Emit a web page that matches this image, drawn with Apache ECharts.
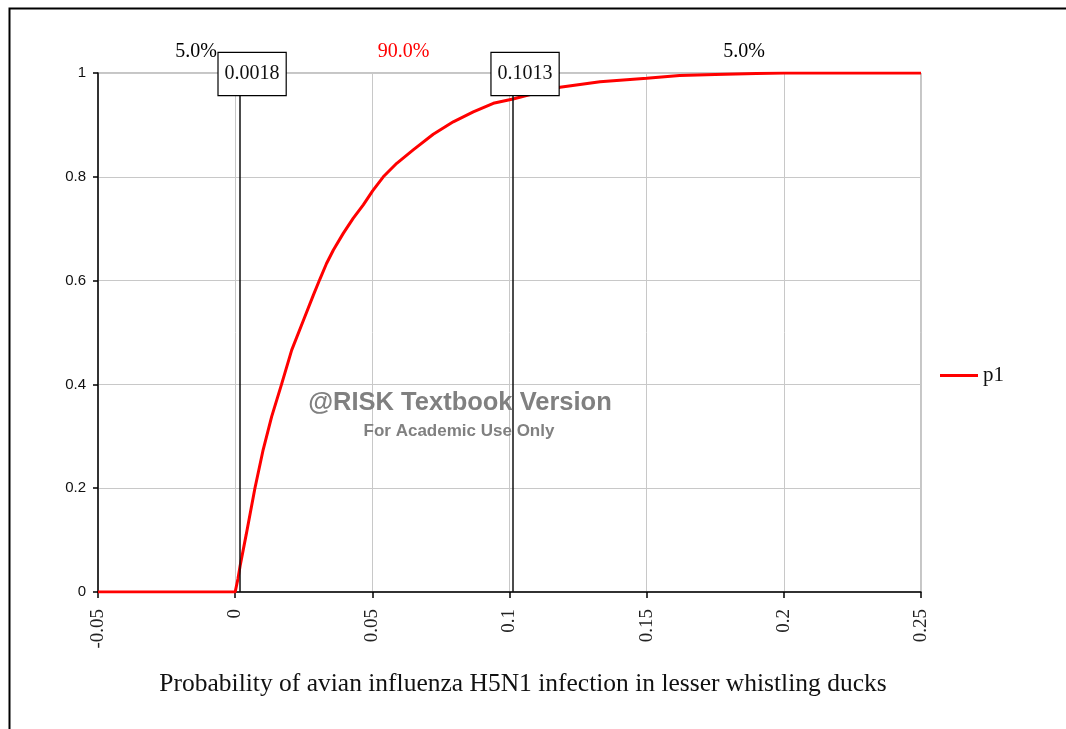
<!DOCTYPE html>
<html>
<head>
<meta charset="utf-8">
<script src="https://cdn.jsdelivr.net/npm/echarts@6/dist/echarts.min.js"></script>
<style>
html,body{margin:0;padding:0;background:#fff;}
#chart{width:1066px;height:729px;}
</style>
</head>
<body>
<div id="chart"></div>
<script>
// ---- Data ----
const seriesName = 'p1';
const xValues = [-0.05, 0, 0.0010, 0.0018, 0.0040, 0.0072, 0.0102, 0.0133, 0.0169, 0.0206, 0.0250, 0.0285, 0.0309, 0.0333, 0.0358, 0.0394, 0.0430, 0.0467, 0.0501, 0.0540, 0.0589, 0.0649, 0.0722, 0.0795, 0.0868, 0.0941, 0.1013, 0.1100, 0.1184, 0.1330, 0.1500, 0.1620, 0.1750, 0.1900, 0.2000, 0.2500];
const cumProb = [0, 0, 0.025, 0.05, 0.11, 0.20, 0.274, 0.338, 0.40, 0.466, 0.525, 0.572, 0.603, 0.633, 0.659, 0.691, 0.720, 0.746, 0.773, 0.800, 0.826, 0.852, 0.882, 0.906, 0.925, 0.9416, 0.95, 0.962, 0.9724, 0.983, 0.9897, 0.995, 0.997, 0.999, 1, 1];
const quantiles = [0.0018, 0.1013];
const quantileLabels = ['0.0018', '0.1013'];
const regionLabels = ['5.0%', '90.0%', '5.0%'];
const regionColors = ['#000000', '#ff0000', '#000000'];
const xMin = -0.05, xMax = 0.25, xStep = 0.05;
const yMin = 0, yMax = 1, yStep = 0.2;
const xTitle = 'Probability of avian influenza H5N1 infection in lesser whistling ducks';
const watermark1 = '@RISK Textbook Version';
const watermark2 = 'For Academic Use Only';

const serif = '"Liberation Serif", "DejaVu Serif", serif';
const sans = '"Liberation Sans", Arial, sans-serif';

const curve = xValues.map((x, i) => [x, cumProb[i]]);
const bounds = [xMin].concat(quantiles).concat([xMax]);
const regionData = regionLabels.map((t, i) => ({
  value: [(bounds[i] + bounds[i + 1]) / 2, yMax],
  label: { color: regionColors[i] }
}));
const boxData = quantiles.map(q => [q, yMax]);

const chart = echarts.init(document.getElementById('chart'), null, { renderer: 'canvas' });
chart.setOption({
  animation: false,
  backgroundColor: '#ffffff',
  grid: { left: 98, right: 145, top: 73, bottom: 137, show: true, borderColor: '#8c8c8c', borderWidth: 1 },
  xAxis: {
    type: 'value', min: xMin, max: xMax, interval: xStep,
    axisLine: { show: true, onZero: false, lineStyle: { color: '#000', width: 1.5 } },
    axisTick: { show: true, length: 6, lineStyle: { color: '#000', width: 1.5 } },
    axisLabel: { rotate: 90, margin: 17, fontFamily: serif, fontSize: 19, color: '#222' },
    splitLine: { show: true, lineStyle: { color: '#c8c8c8', width: 1 } }
  },
  yAxis: {
    type: 'value', min: yMin, max: yMax, interval: yStep,
    axisLine: { show: true, onZero: false, lineStyle: { color: '#000', width: 1.5 } },
    axisTick: { show: true, length: 5, lineStyle: { color: '#000', width: 1.5 } },
    axisLabel: { margin: 12, fontFamily: sans, fontSize: 15, color: '#111' },
    splitLine: { show: true, lineStyle: { color: '#c8c8c8', width: 1 } }
  },
  legend: {
    data: [seriesName], left: 935, top: 360, orient: 'vertical',
    icon: 'rect', itemWidth: 38, itemHeight: 3, itemGap: 6,
    textStyle: { fontFamily: serif, fontSize: 21, color: '#111', padding: [0, 0, 0, 0] }
  },
  series: [
    {
      name: seriesName, type: 'line', data: curve, symbol: 'none', smooth: false,
      lineStyle: { color: '#ff0000', width: 3 }, itemStyle: { color: '#ff0000' }, z: 3,
      markLine: {
        silent: true, symbol: ['none', 'none'],
        lineStyle: { color: '#111', width: 1.5, type: 'solid' },
        label: { show: false },
        data: quantiles.map(q => [{ coord: [q, yMin] }, { coord: [q, yMax] }])
      }
    },
    {
      name: 'quantileBoxes', type: 'scatter', data: boxData, symbolSize: 0, z: 10,
      itemStyle: { opacity: 1 },
      label: {
        show: true, position: 'inside', offset: [12, 1],
        formatter: p => quantileLabels[p.dataIndex],
        fontFamily: serif, fontSize: 20, color: '#111',
        backgroundColor: '#fff', borderColor: '#000', borderWidth: 1.2,
        padding: [11, 6, 11, 6]
      }
    },
    {
      name: 'regions', type: 'scatter', data: regionData, symbolSize: 0, z: 9,
      itemStyle: { opacity: 1 },
      label: {
        show: true, position: 'inside', offset: [27, -21],
        formatter: p => regionLabels[p.dataIndex],
        fontFamily: serif, fontSize: 20
      }
    }
  ],
  graphic: [
    { type: 'rect', z: -10, shape: { x: 9.5, y: 8.5, width: 1200, height: 900 }, style: { fill: 'none', stroke: '#000', lineWidth: 2 } },
    { type: 'text', z: 20, style: { text: xTitle, x: 523, y: 684, align: 'center', verticalAlign: 'middle', font: '25.5px ' + serif, fill: '#111' } },
    { type: 'text', z: 20, style: { text: watermark1, x: 460, y: 403, align: 'center', verticalAlign: 'middle', font: 'bold 25.5px ' + sans, fill: '#808080' } },
    { type: 'text', z: 20, style: { text: watermark2, x: 459, y: 431, align: 'center', verticalAlign: 'middle', font: 'bold 17px ' + sans, fill: '#808080' } }
  ]
});
</script>
</body>
</html>
